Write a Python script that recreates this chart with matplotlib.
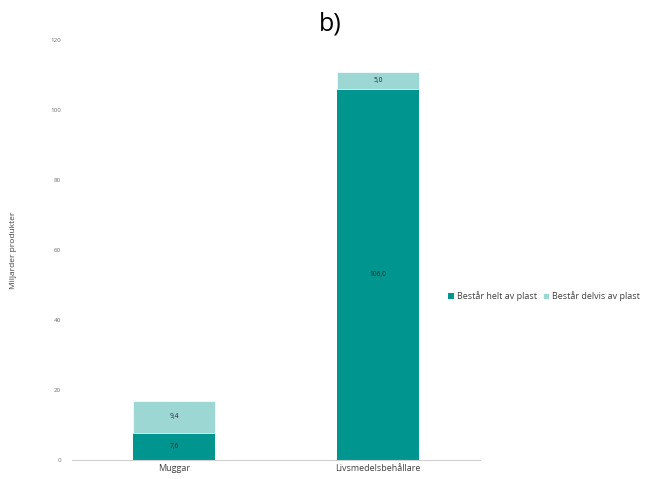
import matplotlib.pyplot as plt

plt.rcParams['font.family'] = ['Open Sans', 'DejaVu Sans']

categories = ["Muggar", "Livsmedelsbehållare"]
helt = [7.6, 106.0]
delvis = [9.4, 5.0]
series_names = ["Består helt av plast", "Består delvis av plast"]

dark = "#00968f"
light = "#9dd7d4"

fig = plt.figure(figsize=(6.49, 4.79), dpi=100)
ax = fig.add_axes([72 / 649, 1 - 460 / 479, 408 / 649, 420 / 479])

x = list(range(len(categories)))
b1 = ax.bar(x, helt, width=0.4, color=dark, label=series_names[0])
b2 = ax.bar(x, delvis, width=0.4, bottom=helt, color=light, label=series_names[1],
            edgecolor="white", linewidth=0.5)

# data labels with comma decimals
for xi, h, d in zip(x, helt, delvis):
    ax.text(xi, h / 2, f"{h:.1f}".replace(".", ","), ha="center", va="center",
            fontsize=4.8, color="#262626")
    ax.text(xi, h + d / 2, f"{d:.1f}".replace(".", ","), ha="center", va="center",
            fontsize=4.8, color="#262626")

ax.set_xlim(-0.5, 1.5)
ax.set_ylim(0, 120)
ax.set_yticks(range(0, 121, 20))
ax.set_xticks(x)
ax.set_xticklabels(categories, fontsize=6.5, color="#404040")
ax.tick_params(axis="y", labelsize=4.5, labelcolor="#707070", length=0, pad=8)
ax.tick_params(axis="x", length=0, pad=3)
for s in ["top", "right", "left"]:
    ax.spines[s].set_visible(False)
ax.spines["bottom"].set_color("#d0d0d0")
ax.spines["bottom"].set_linewidth(0.8)

ax.set_ylabel("Miljarder produkter", fontsize=6, color="#404040", labelpad=24)

fig.text(330 / 649, 1 - 24 / 479, "b)", fontsize=18, ha="center", va="center")

fig.legend(handles=[b1, b2], labels=series_names, loc="center left",
           bbox_to_anchor=(440 / 649, 1 - 296 / 479), ncol=2, frameon=False,
           fontsize=6.5, handlelength=0.7, handleheight=0.7, handletextpad=0.3,
           columnspacing=0.6, labelcolor="#404040")

fig.savefig("out.png", dpi=100)
